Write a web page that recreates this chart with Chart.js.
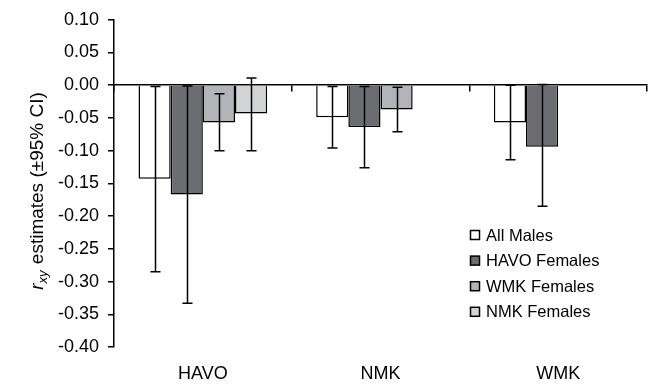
<!DOCTYPE html>
<html>
<head>
<meta charset="utf-8">
<script src="https://cdn.jsdelivr.net/npm/chart.js@4.4.0/dist/chart.umd.min.js"></script>
<style>
  html, body { margin: 0; padding: 0; background: #fff; }
  #wrap { width: 648px; height: 385px; }
</style>
</head>
<body>
<div id="wrap"><canvas id="rxyChart"></canvas></div>
<script>
// datos
const categories = ['HAVO', 'NMK', 'WMK'];
const yTicks = [0.10, 0.05, 0.00, -0.05, -0.10, -0.15, -0.20, -0.25, -0.30, -0.35, -0.40];

const allMales = [-0.143, -0.049, -0.057];
const havoFemales = [-0.167, -0.064, -0.094];
const wmkFemales = [-0.057, -0.037, null];
const nmkFemales = [-0.043, null, null];

// limites del 95% CI
const allMalesLow = [-0.285, -0.096, -0.114];
const allMalesHigh = [-0.002, -0.002, 0.000];
const havoFemalesLow = [-0.333, -0.126, -0.185];
const havoFemalesHigh = [-0.001, -0.002, 0.001];
const wmkFemalesLow = [-0.100, -0.071, null];
const wmkFemalesHigh = [-0.013, -0.003, null];
const nmkFemalesLow = [-0.100, null, null];
const nmkFemalesHigh = [0.011, null, null];

const FONT = "'Liberation Sans', Arial, sans-serif";

// barras de error
const errorBars = {
    id: 'errorBars',
    afterDatasetsDraw(chart) {
        const ctx = chart.ctx;
        const y = chart.scales.y;
        ctx.save();
        ctx.strokeStyle = '#000';
        ctx.lineWidth = 1.5;
        chart.data.datasets.forEach((ds, i) => {
            const meta = chart.getDatasetMeta(i);
            meta.data.forEach((bar, j) => {
                const lo = ds.ciLow[j], hi = ds.ciHigh[j];
                if (lo === null || hi === null || ds.data[j] === null) return;
                const x = Math.round(bar.x) + 0.5;
                const y1 = y.getPixelForValue(lo);
                const y2 = y.getPixelForValue(hi);
                ctx.beginPath();
                ctx.moveTo(x, y1); ctx.lineTo(x, y2);
                ctx.moveTo(x - 5, y1); ctx.lineTo(x + 5, y1);
                ctx.moveTo(x - 5, y2); ctx.lineTo(x + 5, y2);
                ctx.stroke();
            });
        });
        ctx.restore();
    }
};

// leyenda y titulo del eje y
const extras = {
    id: 'extras',
    afterDraw(chart) {
        const ctx = chart.ctx;
        ctx.save();
        // leyenda
        ctx.font = '16.5px ' + FONT;
        ctx.textBaseline = 'middle';
        chart.data.datasets.forEach((ds, i) => {
            const cy = 235 + i * 25.6;
            ctx.fillStyle = ds.backgroundColor;
            ctx.fillRect(470.5, cy - 4.5, 9, 9);
            ctx.strokeStyle = '#000';
            ctx.lineWidth = 1.5;
            ctx.strokeRect(470.5, cy - 4.5, 9, 9);
            ctx.fillStyle = '#000';
            ctx.fillText(ds.label, 486, cy + 1);
        });

        // titulo rotado con subindice
        ctx.translate(43, 191);
        ctx.rotate(-Math.PI / 2);
        ctx.textBaseline = 'alphabetic';
        const fR = 'italic 19px ' + FONT;
        const fSub = 'italic 13px ' + FONT;
        const fTxt = '19px ' + FONT;
        const rest = ' estimates (\u00b195% CI)';
        ctx.font = fR; const wR = ctx.measureText('r').width;
        ctx.font = fSub; const wS = ctx.measureText('xy').width;
        ctx.font = fTxt; const wT = ctx.measureText(rest).width;
        let x = -(wR + wS + 1 + wT) / 2;
        ctx.font = fR; ctx.fillText('r', x, 0); x += wR;
        ctx.font = fSub; ctx.fillText('xy', x, 4); x += wS + 1;
        ctx.font = fTxt; ctx.fillText(rest, x, 0);
        ctx.restore();
    }
};

function serie(label, data, low, high, color) {
    return {
        label: label,
        data: data,
        ciLow: low,
        ciHigh: high,
        backgroundColor: color,
        borderColor: '#000',
        borderWidth: 1.5,
        barPercentage: 1,
        categoryPercentage: 0.724
    };
}

new Chart(document.getElementById('rxyChart'), {
    type: 'bar',
    data: {
        labels: categories,
        datasets: [
            serie('All Males', allMales, allMalesLow, allMalesHigh, '#ffffff'),
            serie('HAVO Females', havoFemales, havoFemalesLow, havoFemalesHigh, '#6b6c70'),
            serie('WMK Females', wmkFemales, wmkFemalesLow, wmkFemalesHigh, '#b3b4b8'),
            serie('NMK Females', nmkFemales, nmkFemalesLow, nmkFemalesHigh, '#d3d4d6')
        ]
    },
    options: {
        responsive: true,
        maintainAspectRatio: false,
        animation: false,
        layout: { padding: { top: 12, right: 1, left: 0, bottom: 0 } },
        plugins: {
            legend: { display: false },
            tooltip: { enabled: false }
        },
        scales: {
            x: {
                position: 'bottom',
                grid: { display: false, drawTicks: false },
                border: { display: false },
                ticks: { color: '#000', font: { family: FONT, size: 18 }, padding: 16 },
                afterFit(scale) { scale.height = 38; }
            },
            x2: {
                position: { y: 0 },
                labels: categories,
                grid: { drawOnChartArea: false, color: '#000', lineWidth: 1.5, tickLength: 6 },
                border: { color: '#000', width: 1.5 },
                ticks: { display: false }
            },
            y: {
                min: -0.40,
                max: 0.10,
                afterBuildTicks(scale) {
                    scale.ticks = yTicks.map(v => ({ value: v }));
                },
                grid: { drawOnChartArea: false, color: '#000', lineWidth: 1.5, tickLength: 6 },
                border: { color: '#000', width: 1.5 },
                ticks: {
                    color: '#000',
                    padding: 9,
                    font: { family: FONT, size: 18 },
                    callback: v => v.toFixed(2)
                },
                afterFit(scale) { scale.width = 114; }
            }
        }
    },
    plugins: [errorBars, extras]
});
</script>
</body>
</html>
